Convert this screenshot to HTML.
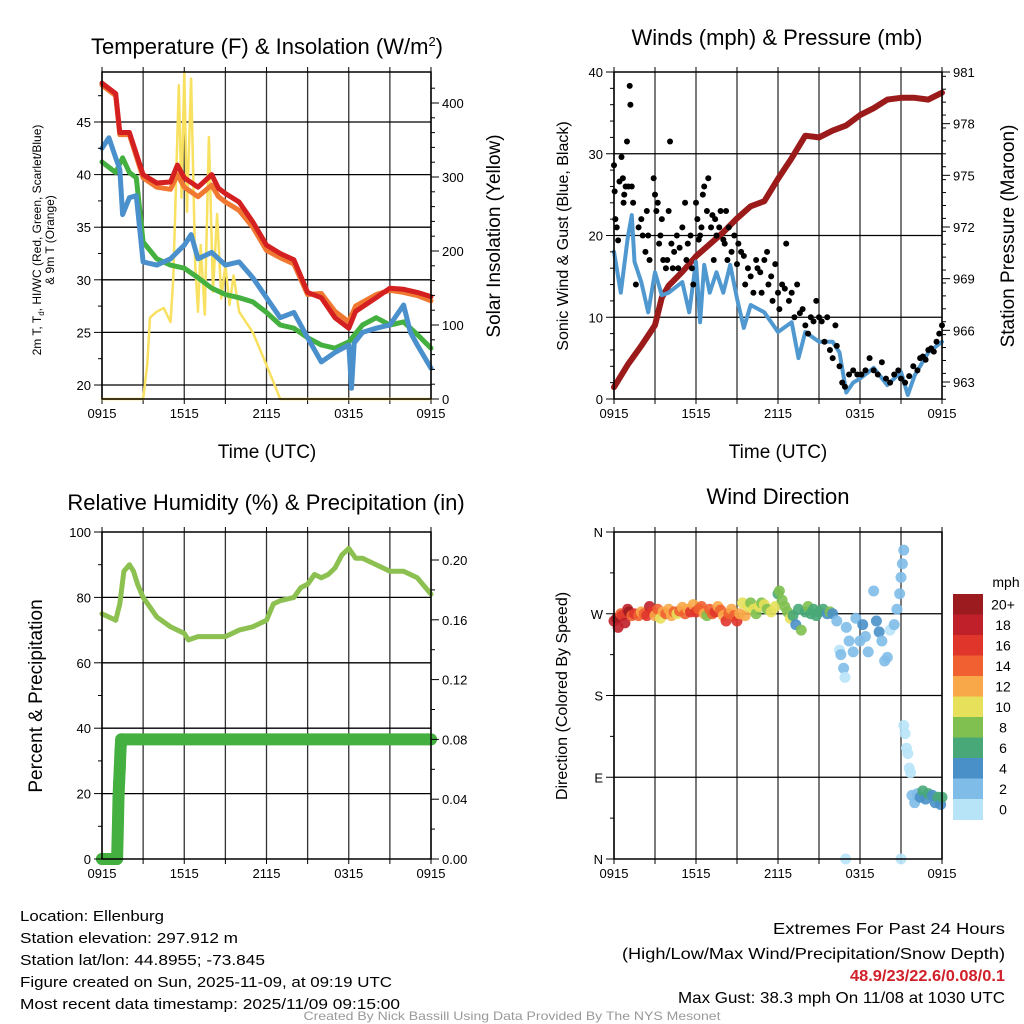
<!DOCTYPE html>
<html><head><meta charset="utf-8"><style>
html,body{margin:0;padding:0;background:#fff;}
svg{display:block;font-family:"Liberation Sans",sans-serif;}
</style></head><body>
<svg id="fig" width="1024" height="1024" viewBox="0 0 1024 1024" xmlns="http://www.w3.org/2000/svg">
<rect width="1024" height="1024" fill="#fff"/>
<g id="p1"></g>
<g id="p2"></g>
<g id="p3"></g>
<g id="p4"></g>
<g id="cb"></g>
<g font-size="15" fill="#000">
<text x="20" y="921" textLength="144" lengthAdjust="spacingAndGlyphs">Location: Ellenburg</text>
<text x="20" y="943" textLength="218" lengthAdjust="spacingAndGlyphs">Station elevation: 297.912 m</text>
<text x="20" y="965" textLength="245" lengthAdjust="spacingAndGlyphs">Station lat/lon: 44.8955; -73.845</text>
<text x="20" y="987" textLength="372" lengthAdjust="spacingAndGlyphs">Figure created on Sun, 2025-11-09, at 09:19 UTC</text>
<text x="20" y="1009" textLength="380" lengthAdjust="spacingAndGlyphs">Most recent data timestamp: 2025/11/09 09:15:00</text>
</g>
<g font-size="16" text-anchor="end">
<text x="1005" y="934" textLength="232" lengthAdjust="spacingAndGlyphs">Extremes For Past 24 Hours</text>
<text x="1005" y="959" textLength="383" lengthAdjust="spacingAndGlyphs">(High/Low/Max Wind/Precipitation/Snow Depth)</text>
<text x="1005" y="981" textLength="155" lengthAdjust="spacingAndGlyphs" font-weight="bold" fill="#d0202a">48.9/23/22.6/0.08/0.1</text>
<text x="1005" y="1003" textLength="327" lengthAdjust="spacingAndGlyphs">Max Gust: 38.3 mph On 11/08 at 1030 UTC</text>
</g>
<text x="512" y="1020" text-anchor="middle" font-size="12" fill="#999" textLength="417" lengthAdjust="spacingAndGlyphs">Created By Nick Bassill Using Data Provided By The NYS Mesonet</text>
</svg>
<script>
// ---------- data ----------
const xTickLabels = ["0915","1515","2115","0315","0915"];
// Panel 1
const tempHours = [0,1,1.3,2,3,4,5,5.5,6,7,8,8.5,9,10,11,12,13,14,15,16,17,18,18.5,20,21,22,23,24];
const tempRed   = [48.7,47.7,44,44,40,39.2,39.3,40.9,39.7,38.8,40,38.7,38.2,37.4,35.5,33.3,32.5,31.9,28.8,28.3,26.4,25.4,27,28.3,29.2,29.1,28.8,28.4];
const tempOrange= [48.5,47.5,43.8,43.8,39.7,38.8,38.6,40,38.8,37.9,39,37.9,37.4,36.6,35,32.8,32.1,31.5,28.6,28.7,27,26,27.5,28.6,29,28.8,28.5,28];
const blueHours = [0,0.5,1,1.3,1.5,2,2.5,3,4,5,6,6.5,7,8,9,10,11,12,13,14,15,16,17,18,18.2,18.4,19,20,21,22,22.5,23,24];
const tempBlue  = [42.5,43.5,41.6,40.5,36.2,37.8,38,31.7,31.4,32,33.3,34.3,32,32.6,31.4,31.7,30.2,28.3,26.4,26.9,24.5,22.2,23.1,23.8,19.7,24,25,25.4,25.7,27.6,25,23.8,21.6];
const greenHours= [0,1,1.5,2,2.5,3,4,5,6,7,8,9,10,11,12,13,14,15,16,17,18,19,20,21,22,23,24];
const tempGreen = [41.2,40.2,41.6,40.2,39.7,33.6,32,31.4,31.1,30.2,29.2,28.6,28.3,27.9,26.9,25.7,25.4,24.5,23.8,23.5,24.1,25.7,26.4,25.7,26,24.8,23.5];
const solHours  = [0,3,3.3,3.5,4,4.5,5,5.2,5.6,5.8,6,6.2,6.5,6.8,7,7.2,7.5,7.8,8.1,8.4,8.7,9,9.3,9.6,10,11,12,12.5,13,24];
const solar     = [0,0,46,110,118,123,104,163,424,272,441,253,433,181,118,208,114,354,145,250,136,181,127,167,118,90,46,23,0,0];
// Panel 2
const windHours = [0,0.5,1,1.3,1.5,2,2.5,3,3.5,4,5,5.5,6,6.3,6.6,7,7.5,8,8.5,9,9.5,10,11,12,13,13.5,14,15,16,16.5,17,17.5,18,19,20,21,21.5,22,23,24];
const windSpd   = [18,13,19.7,22.5,16.8,14.3,10.6,15.5,12.7,13,14.3,10.6,16.8,9.4,16.4,13,15.5,13,16.4,12.3,8.7,11.5,10.6,8.2,9.4,5,8.2,7,7,5.7,0.8,2,2.5,3.8,1.7,3.3,0.5,2.9,5.7,7];
const gustHours = [0,0.05,0.1,0.2,0.3,0.4,0.55,0.65,0.7,0.75,0.85,0.95,1.05,1.15,1.2,1.3,1.4,1.6,1.8,2,2.1,2.3,2.4,2.5,2.6,2.9,3,3.1,3.2,3.3,3.4,3.5,3.6,3.8,3.9,4,4.1,4.2,4.3,4.4,4.6,4.7,4.8,5,5.2,5.3,5.4,5.6,5.7,5.8,6,6.1,6.2,6.3,6.4,6.5,6.6,6.8,6.9,7.1,7.2,7.3,7.4,7.5,7.7,7.8,8,8.1,8.2,8.3,8.4,8.6,8.8,9,9.1,9.3,9.5,9.6,9.8,10,10.2,10.4,10.5,10.7,10.8,11,11.2,11.3,11.5,11.6,11.8,12,12.1,12.3,12.5,12.6,12.8,13,13.2,13.4,13.6,13.8,14,14.2,14.4,14.6,14.8,15,15.2,15.4,15.6,15.8,16,16.2,16.3,16.5,16.7,16.9,17.2,17.5,17.8,18.1,18.4,18.7,19,19.3,19.6,19.9,20.2,20.5,20.8,21,21.3,21.6,21.9,22.2,22.4,22.6,22.8,23,23.2,23.4,23.6,23.8,24];
const gustSpd   = [28.6,25.4,22,21,19.4,26.6,29.6,27,24,25,26,31.5,26,38.3,36,26,24,14,21,22,20,18,23,20,17,27,25,23,24,19,20,22,17,16,17,23,31.5,19,16,18,20,16,18.5,21,24,17,19,20,16,14,24,22,19.5,20,21,25,26,23,27,21,22.5,17,22,20,21,23,19.5,19,23,17,21,18,20,16.5,19,18,17.5,14,16,15,13,17,16,15.5,13,17,18,14,15,12,16.5,13,11,14,13.5,19,12,13,10,14,10.5,11,9,8,10,9.5,12,10,9.5,7,10,6,5,9,6.5,4,2,1.5,3,3.5,3,3,3.5,5,3.5,3,4.5,2.5,2,3,3.5,2.5,2,2.8,4,3.5,5,5.2,4.8,6,6.2,5.8,7,8,9];
const presHours = [0,1,2,3,3.5,4,5,6,7,8,9,10,11,12,13,14,15,16,17,18,19,20,21,22,23,24];
const pressure  = [962.7,964,965.1,966.3,967.9,968.6,969.4,970.3,971,971.7,972.5,973.2,973.5,974.8,976,977.3,977.2,977.6,977.9,978.5,978.9,979.4,979.5,979.5,979.4,979.8];
// Panel 3
const rhHours = [0,0.5,1,1.3,1.6,2,2.3,2.6,3,3.5,4,5,6,6.3,7,8,9,10,11,12,12.5,13,14,14.5,15,15.5,16,16.5,17,17.5,18,18.5,19,20,21,22,23,24];
const rh      = [75,74,73,78,88,90,88,84,80,77,74,71,69,67,68,68,68,70,71,73,78,79,80,83,84,87,86,87,89,93,95,92,92,90,88,88,86,81];
const precipHours = [0,0.3,0.6,0.9,1.1,1.17,1.2,1.25,1.3,1.35,1.4,1.45,1.5,24];
const precip      = [0,0,0,0,0,0.025,0.041,0.051,0.061,0.073,0.08,0.08,0.08,0.08];
// Panel 4
const dirHours = [0,0.2,0.3,0.5,0.6,0.8,1,1.1,1.3,1.5,1.8,2,2.2,2.4,2.6,2.8,3,3.2,3.4,3.6,3.8,4,4.2,4.4,4.6,4.8,5,5.2,5.4,5.6,5.8,6,6.2,6.4,6.6,6.8,7,7.2,7.4,7.6,7.8,8,8.2,8.4,8.6,8.8,9,9.2,9.4,9.6,9.8,10,10.2,10.4,10.6,10.8,11,11.2,11.5,11.8,12,12.1,12.3,12.5,12.7,12.9,13.1,13.3,13.5,13.7,14,14.2,14.4,14.6,14.8,15,15.3,15.6,15.8,16,16.3,16.5,16.6,16.8,16.9,16.95,17,17.2,17.5,17.7,18,18.2,18.4,18.6,19,19.2,19.4,19.6,19.8,20,20.2,20.5,20.7,20.9,21,21.1,21.2,21.0,21.2,21.3,21.4,21.5,21.6,21.7,21.8,22,22.2,22.4,22.6,22.8,23,23.3,23.5,23.7,23.9,24];
const dirDeg   = [262,265,255,270,268,260,275,272,268,270,268,272,270,268,278,272,268,275,265,272,270,275,268,272,270,273,277,270,275,272,280,272,275,278,270,268,275,270,272,278,274,268,262,270,275,268,262,270,282,268,278,282,275,270,278,282,280,275,272,278,292,295,285,278,272,265,268,258,275,252,272,278,270,275,268,272,275,270,272,270,262,230,225,210,200,0,255,240,228,265,240,258,245,228,295,262,250,240,218,222,252,258,275,292,310,325,340,0,147,138,122,116,100,95,70,62,72,68,75,66,72,70,62,68,60,68];
const dirSpd   = [18,20,18,14,16,18,18,20,14,16,14,12,14,16,18,16,12,14,10,12,14,13,12,14,10,14,12,14,13,16,12,16,14,14,12,8,14,14,16,12,14,12,16,14,12,14,16,12,10,12,10,8,10,8,10,8,10,8,10,10,6,8,8,8,8,10,6,4,6,8,6,8,6,6,6,6,6,4,8,4,2,0,2,2,0,0,2,2,2,2,2,4,2,2,2,4,4,2,2,2,0,2,2,2,2,2,2,0,0,0,0,0,0,0,2,2,2,4,6,4,6,4,4,6,4,6];
const speedBins   = ["20+","18","16","14","12","10","8","6","4","2","0"];
const speedColors = ["#9b1b1f","#c0202a","#e0352b","#f06030","#f8a848","#e6e05a","#80c050","#48a878","#4a90c8","#80bce8","#b8e4f8"];

// ---------- helpers ----------
const NS="http://www.w3.org/2000/svg";
function mk(parent,tag,attrs,text){const e=document.createElementNS(NS,tag);for(const k in attrs)e.setAttribute(k,attrs[k]);if(text!==undefined)e.textContent=text;parent.appendChild(e);return e;}
function linScale(d0,d1,r0,r1){return v=>r0+(v-d0)*(r1-r0)/(d1-d0);}
function pathFrom(xs,ys,fx,fy){return xs.map((h,i)=>(i?"L":"M")+fx(h).toFixed(1)+","+fy(ys[i]).toFixed(1)).join("");}

function frame(g,L,T,R,B,hGridYs){
  // vertical grid every 3h
  for(let h=0;h<=24;h+=3){const x=L+h*(R-L)/24;
    const gl=mk(g,"line",{x1:x,y1:T,x2:x,y2:B,stroke:"#333","stroke-width":1.3});
    
    mk(g,"line",{x1:x,y1:T,x2:x,y2:T-5,stroke:"#000","stroke-width":1});
    mk(g,"line",{x1:x,y1:B,x2:x,y2:B+5,stroke:"#000","stroke-width":1});
  }
  hGridYs.forEach(y=>{const gl=mk(g,"line",{x1:L,y1:y,x2:R,y2:y,stroke:"#000","stroke-width":1.3});
    });
  xTickLabels.forEach((t,i)=>{const x=L+i*6*(R-L)/24;
    const tl=mk(g,"text",{x:x,y:B+19,"font-size":13,"text-anchor":"middle"},t);
    });
}
function border(g,L,T,R,B){const b=mk(g,"rect",{x:L,y:T,width:R-L,height:B-T,fill:"none",stroke:"#000","stroke-width":1.5});
  }
function yTicks(g,x,dir,vals,labels,fy,minor){
  (minor||[]).forEach(v=>{const y=fy(v);mk(g,"line",{x1:x,y1:y,x2:x+dir*4,y2:y,stroke:"#000","stroke-width":1});});
  vals.forEach((v,i)=>{const y=fy(v);mk(g,"line",{x1:x,y1:y,x2:x+dir*8,y2:y,stroke:"#000","stroke-width":1});
    const t=mk(g,"text",{x:x+dir*11,y:y+5,"font-size":13,"text-anchor":dir<0?"end":"start"},labels[i]);
    });
}
function rotText(g,x,y,txt,size,name){const t=mk(g,"text",{x:0,y:0,"font-size":size,"text-anchor":"middle",transform:`translate(${x},${y}) rotate(-90)`},txt);
  return t;}
function line(g,xs,ys,fx,fy,color,w,name){const p=mk(g,"path",{d:pathFrom(xs,ys,fx,fy),fill:"none",stroke:color,"stroke-width":w,"stroke-linejoin":"round","stroke-linecap":"round"});
  return p;}

// ---------- Panel 1 ----------
(function(){const g=document.getElementById("p1");const L=102,T=72,R=431,B=399;
  const fx=linScale(0,24,L,R), fy=linScale(20,45,385,122), fs=linScale(0,400,399,103);
  frame(g,L,T,R,B,[20,25,30,35,40,45].map(fy));
  const cg=mk(g,"g",{});
  line(cg,solHours,solar,fx,fs,"#f8e060",2.5,"insolation-line");
  line(cg,greenHours,tempGreen,fx,fy,"#44b040",5,"dewpoint-line");
  line(cg,blueHours,tempBlue,fx,fy,"#4a90cc",5,"blue-temp-line");
  line(cg,tempHours,tempOrange,fx,fy,"#f07830",5,"orange-temp-line");
  line(cg,tempHours,tempRed,fx,fy,"#d42020",5,"temperature-line");
  border(g,L,T,R,B);
  const mj=[20,25,30,35,40,45],mn=[];for(let v=20;v<=47.5;v+=2.5)if(v%5)mn.push(v);
  yTicks(g,L,-1,mj,mj.map(String),fy,mn);
  const sm=[0,100,200,300,400],smn=[];for(let v=20;v<=420;v+=20)if(v%100)smn.push(v);
  yTicks(g,R,1,sm,sm.map(String),fs,smn);
  const t=mk(g,"text",{x:267,y:54,"font-size":22,"text-anchor":"middle"});
  t.innerHTML='Temperature (F) &amp; Insolation (W/m<tspan dy="-8" font-size="13">2</tspan><tspan dy="8">)</tspan>';
  const xl=mk(g,"text",{x:267,y:458,"font-size":19,"text-anchor":"middle"},"Time (UTC)");
  const a=rotText(g,41,240,"",12,"y-axis-title");a.innerHTML='2m T, T<tspan dy="3" font-size="8">d</tspan><tspan dy="-3">, HI/WC (Red, Green, Scarlet/Blue)</tspan>';
  rotText(g,54,240,"& 9m T (Orange)",12,"y-axis-title-line2");
  rotText(g,500,236,"Solar Insolation (Yellow)",19,"right-axis-title");
})();

// ---------- Panel 2 ----------
(function(){const g=document.getElementById("p2");const L=614,T=72,R=942,B=399;
  const fx=linScale(0,24,L,R), fy=linScale(0,40,399,72), fp=linScale(963,981,382,72);
  frame(g,L,T,R,B,[10,20,30].map(fy));
  line(g,presHours,pressure,fx,fp,"#9b1b1b",6,"pressure-line");
  line(g,windHours,windSpd,fx,fy,"#5098d0",4,"wind-speed-line");
  gustHours.forEach((h,i)=>{const c=mk(g,"circle",{cx:fx(h),cy:fy(gustSpd[i]),r:3,fill:"#000"});
    });
  border(g,L,T,R,B);
  const mj=[0,10,20,30,40],mn=[];for(let v=2;v<40;v+=2)if(v%10)mn.push(v);
  yTicks(g,L,-1,mj,mj.map(String),fy,mn);
  const pm=[963,966,969,972,975,978,981],pmn=[];for(let v=962;v<981;v+=0.75)if(!pm.includes(v))pmn.push(v);
  yTicks(g,R,1,pm,pm.map(String),fp,pmn);
  const t=mk(g,"text",{x:777,y:45,"font-size":22,"text-anchor":"middle"},"Winds (mph) & Pressure (mb)");
  const xl=mk(g,"text",{x:778,y:458,"font-size":19,"text-anchor":"middle"},"Time (UTC)");
  rotText(g,568,236,"Sonic Wind & Gust (Blue, Black)",16,"y-axis-title");
  rotText(g,1014,236,"Station Pressure (Maroon)",19,"right-axis-title");
})();

// ---------- Panel 3 ----------
(function(){const g=document.getElementById("p3");const L=102,T=532,R=431,B=859;
  const fx=linScale(0,24,L,R), fy=linScale(0,100,859,532), fp=linScale(0,0.2,859,560);
  frame(g,L,T,R,B,[20,40,60,80].map(fy));
  line(g,rhHours,rh,fx,fy,"#8cc050",5,"humidity-line");
  line(g,precipHours,precip,fx,fp,"#44b040",12,"precip-line");
  precipHours.forEach((h,i)=>{const c=mk(g,"circle",{cx:fx(h),cy:fp(precip[i]),r:6,fill:"#44b040"});
    });
  border(g,L,T,R,B);
  const mj=[0,20,40,60,80,100],mn=[10,30,50,70,90];
  yTicks(g,L,-1,mj,mj.map(String),fy,mn);
  const pm=[0,0.04,0.08,0.12,0.16,0.2],pmn=[0.02,0.06,0.1,0.14,0.18];
  yTicks(g,R,1,pm,pm.map(v=>v.toFixed(2)),fp,pmn);
  const t=mk(g,"text",{x:266,y:510,"font-size":22,"text-anchor":"middle"},"Relative Humidity (%) & Precipitation (in)");
  rotText(g,42,696,"Percent & Precipitation",19,"y-axis-title");
})();

// ---------- Panel 4 ----------
(function(){const g=document.getElementById("p4");const L=614,T=532,R=942,B=859;
  const fx=linScale(0,24,L,R), fy=linScale(0,360,859,532);
  frame(g,L,T,R,B,[90,180,270].map(fy));
  function col(s){let idx=10-Math.min(10,Math.floor(s/2));return speedColors[idx];}
  dirHours.forEach((h,i)=>{const c=mk(g,"circle",{cx:fx(h),cy:fy(dirDeg[i]),r:5.5,fill:col(dirSpd[i]),"fill-opacity":0.9});
    });
  border(g,L,T,R,B);
  const dv=[0,90,180,270,360],dl=["N","E","S","W","N"],mn=[45,135,225,315];
  yTicks(g,L,-1,dv,dl,fy,mn);
  const t=mk(g,"text",{x:778,y:504,"font-size":22,"text-anchor":"middle"},"Wind Direction");
  rotText(g,567,696,"Direction (Colored By Speed)",16,"y-axis-title");
})();

// ---------- Colorbar ----------
(function(){const g=document.getElementById("cb");const top=594,h=20.5;
  const u=mk(g,"text",{x:1006,y:587,"font-size":14,"text-anchor":"middle"},"mph");
  speedBins.forEach((lab,i)=>{const r=mk(g,"rect",{x:953,y:top+i*h,width:30,height:h+0.5,fill:speedColors[i]});
    
    const t=mk(g,"text",{x:1003,y:top+i*h+h/2+5,"font-size":14,"text-anchor":"middle"},lab);
    });
})();
</script>
</body></html>
